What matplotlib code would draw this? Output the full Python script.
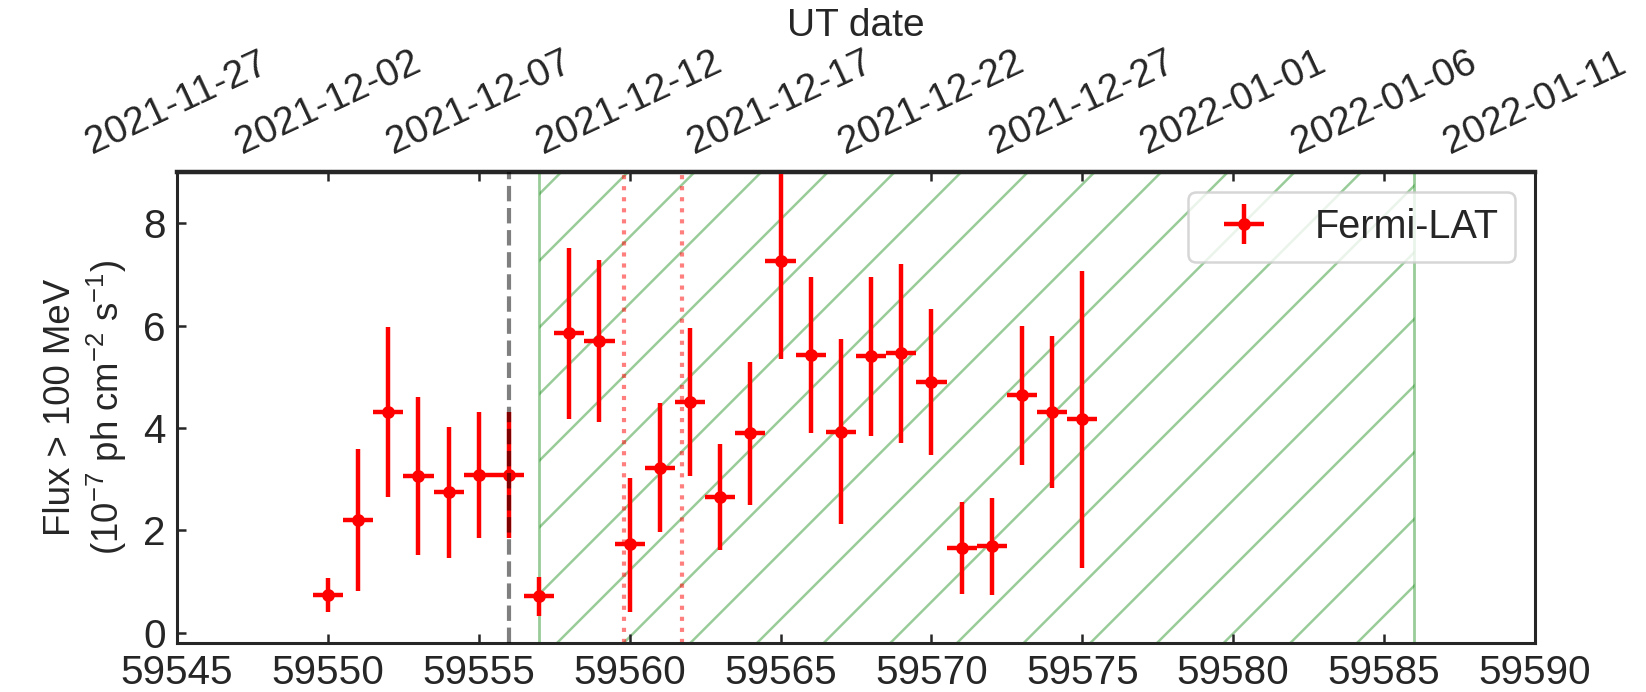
import matplotlib
matplotlib.use("Agg")
import matplotlib.pyplot as plt
import numpy as np

# ---- data ----
mjd = [59550, 59551, 59552, 59553, 59554, 59555, 59556, 59557, 59558, 59559,
       59560, 59561, 59562, 59563, 59564, 59565, 59566, 59567, 59568, 59569,
       59570, 59571, 59572, 59573, 59574, 59575]
flux = [0.73, 2.20, 4.32, 3.07, 2.75, 3.08, 3.08, 0.71, 5.86, 5.70,
        1.73, 3.22, 4.51, 2.65, 3.90, 7.26, 5.42, 3.93, 5.41, 5.46,
        4.89, 1.66, 1.69, 4.64, 4.32, 4.18]
flux_low = [0.40, 0.81, 2.65, 1.52, 1.47, 1.86, 1.86, 0.33, 4.18, 4.11,
            0.41, 1.96, 3.07, 1.61, 2.50, 5.34, 3.90, 2.12, 3.85, 3.70,
            3.47, 0.76, 0.73, 3.27, 2.82, 1.27]
flux_high = [1.06, 3.58, 5.98, 4.61, 4.02, 4.31, 4.32, 1.09, 7.52, 7.29,
             3.03, 4.48, 5.96, 3.68, 5.28, 9.20, 6.95, 5.74, 6.95, 7.20,
             6.32, 2.55, 2.64, 6.00, 5.80, 7.07]
bin_half_width = 0.5

onset_mjd = 59556
window_start, window_end = 59557, 59586
dotted_mjd = [59559.8, 59561.75]

x_ticks = [59545, 59550, 59555, 59560, 59565, 59570, 59575, 59580, 59585, 59590]
top_tick_labels = ["2021-11-27", "2021-12-02", "2021-12-07", "2021-12-12",
                   "2021-12-17", "2021-12-22", "2021-12-27", "2022-01-01",
                   "2022-01-06", "2022-01-11"]
y_ticks = [0, 2, 4, 6, 8]

# ---- style ----
dark = "#262626"
plt.rcParams.update({
    "font.family": ["Liberation Sans", "DejaVu Sans"],
    "mathtext.fontset": "custom",
    "mathtext.rm": "Liberation Sans",
    "mathtext.it": "Liberation Sans:italic",
    "mathtext.bf": "Liberation Sans:bold",
    "text.color": dark,
    "axes.edgecolor": dark,
    "axes.labelcolor": dark,
    "xtick.color": dark,
    "ytick.color": dark,
    "hatch.linewidth": 0.45,
})

DPI = 400
W, H = 1646, 692
fig = plt.figure(figsize=(W / DPI, H / DPI), dpi=DPI)
ax = fig.add_axes([177 / W, 1 - 643 / H, (1535 - 177) / W, (643 - 172) / H])

flux_a = np.array(flux)
yerr = [flux_a - np.array(flux_low), np.array(flux_high) - flux_a]

ax.axvspan(window_start, window_end, facecolor="none",
           edgecolor=(0.0, 0.5, 0.0, 0.4), hatch="//", lw=0.5, zorder=1)
for xv in dotted_mjd:
    ax.axvline(xv, color="red", alpha=0.5, ls=":", lw=0.75, zorder=1.5)

ax.errorbar(mjd, flux, xerr=bin_half_width, yerr=yerr, fmt="o", color="red",
            ms=2.3, mew=0, elinewidth=0.8, capsize=0, label="Fermi-LAT",
            zorder=2)

ax.axvline(onset_mjd, color="black", alpha=0.5, ls="--", lw=0.75, zorder=3)

ax.set_xlim(59545, 59590)
ax.set_ylim(-0.2, 9.0)
ax.set_xticks(x_ticks)
ax.set_yticks(y_ticks)
ax.tick_params(axis="both", direction="in", length=1.6, width=0.45,
               pad=2, labelsize=7.3)
for s in ax.spines.values():
    s.set_linewidth(0.55)

ax.set_ylabel("Flux > 100 MeV\n(10$^{-7}$ ph cm$^{-2}$ s$^{-1}$)",
              fontsize=6.6, labelpad=2.5)

leg = ax.legend(loc="upper right", fontsize=7.15, frameon=True, fancybox=True)
leg.get_frame().set_edgecolor("0.8")
leg.get_frame().set_linewidth(0.45)

top = ax.secondary_xaxis("top")
top.set_xticks(x_ticks, labels=top_tick_labels)
top.tick_params(axis="x", direction="in", length=1.6, width=0.45, pad=2,
                labelsize=7.0, labelrotation=25)
top.set_xlabel("UT date", fontsize=7.0, labelpad=1.5)

fig.savefig("out.png", dpi=DPI)
